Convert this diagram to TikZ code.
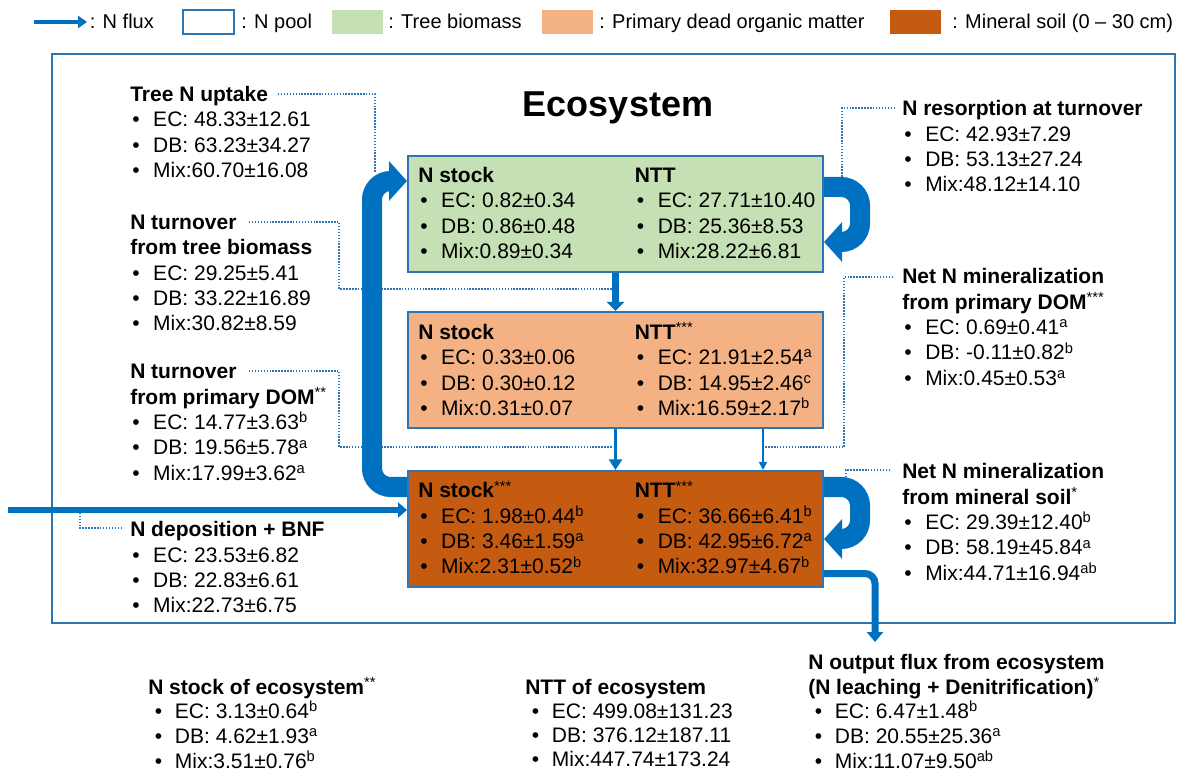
\documentclass[tikz,border=0pt]{standalone}
\usepackage{fontspec}
\setmainfont{Liberation Sans}
\usetikzlibrary{arrows.meta,calc}
\definecolor{fluxblue}{HTML}{0070C0}
\definecolor{lineblue}{HTML}{2E75B6}
\definecolor{treegreen}{HTML}{C5E0B4}
\definecolor{domorange}{HTML}{F4B183}
\definecolor{soilbrown}{HTML}{C55A11}
\newcommand{\bl}[1]{\hspace*{1.5pt}\makebox[15.75pt][l]{•}#1}
\newcommand{\blb}[1]{\hspace*{5pt}\makebox[15pt][l]{•}#1}
\newcommand{\sps}[1]{\textsuperscript{#1}}
\newcommand{\lines}[1]{\begin{tabular}[t]{@{}l@{}}#1\end{tabular}}
\begin{document}
\begin{tikzpicture}[x=0.75pt,y=-0.75pt,
  lbl/.style={anchor=base west, inner sep=0pt, font=\fontsize{15.75}{19}\selectfont},
  lblb/.style={anchor=base west, inner sep=0pt, font=\fontsize{15.75}{18.2}\selectfont},
  leg/.style={anchor=base west, inner sep=0pt, font=\fontsize{15}{18}\selectfont},
  pool/.style={draw=lineblue, line width=1.5pt, minimum width=311.25pt, minimum height=87pt, inner sep=0pt},
  legsq/.style={fill=#1, minimum width=38.25pt, minimum height=18pt, inner sep=0pt},
  leader/.style={draw=lineblue, line width=1.1pt, dash pattern=on 1.1pt off 1.1pt},
  bigflux/.style={draw=fluxblue, line width=15pt, rounded corners=14pt, -{Triangle[width=29pt,length=13.5pt]}},
  fluxa/.style={draw=fluxblue, line width=5.25pt, -{Triangle[width=12.75pt,length=6.75pt]}},
  fluxb/.style={draw=fluxblue, line width=2.25pt, -{Triangle[width=9.75pt,length=8pt]}},
  fluxc/.style={draw=fluxblue, line width=1.1pt, -{Triangle[width=6pt,length=6pt]}},
  fluxdep/.style={draw=fluxblue, line width=4.5pt, -{Triangle[width=11.25pt,length=6.75pt]}},
  fluxout/.style={draw=fluxblue, line width=5.25pt, rounded corners=7.5pt, -{Triangle[width=12pt,length=7.5pt]}},
  fluxleg/.style={draw=fluxblue, line width=3pt, -{Triangle[width=9pt,length=6.75pt]}}
]
\useasboundingbox (0,0) rectangle (1189,773);

% ---------- legend ----------
\coordinate (legA) at (34,22);
\coordinate (legB) at (87,22);
\draw[fluxleg] (legA) -- (legB);
\node[leg] (legt1) at (89.5,29) {: N flux};
\node[draw=lineblue, line width=1.5pt, fill=white, minimum width=38.25pt, minimum height=18pt, inner sep=0pt] (legpool) at (208,22) {};
\node[leg] (legt2) at (241,29) {: N pool};
\node[legsq=treegreen] (leggreen) at (357.5,22) {};
\node[leg] (legt3) at (388,29) {: Tree biomass};
\node[legsq=domorange] (legorange) at (567.5,22) {};
\node[leg] (legt4) at (599,29) {: Primary dead organic matter};
\node[legsq=soilbrown] (legbrown) at (915,22) {};
\node[leg] (legt5) at (952,29) {: Mineral soil (0 -- 30 cm)};

% ---------- ecosystem frame ----------
\node[draw=lineblue, line width=1.7pt, minimum width=842.25pt, minimum height=426.75pt, inner sep=0pt] (eco) at (613.5,338.5) {};
\node[font=\fontsize{27}{32}\selectfont\bfseries, inner sep=0pt] (ecot) at (618,108) {Ecosystem};

% ---------- leader coordinates ----------
\coordinate (lupE) at (278,94);   \coordinate (upTop) at (375,172);
\coordinate (lturnE) at (249,222); \coordinate (tb1) at (339,289); \coordinate (tb2) at (612,289);
\coordinate (ldomE) at (249,371);  \coordinate (td1) at (339,447); \coordinate (td2) at (613,447);
\coordinate (rmin1E) at (893,277); \coordinate (rm1) at (844,447); \coordinate (rm2) at (763,447);
\coordinate (rresE) at (895,108);  \coordinate (rr1) at (842,178);
\coordinate (rmin2E) at (890,470); \coordinate (rm3) at (846,479);
\coordinate (ldepE) at (122,528);  \coordinate (dp1) at (80,513);

\draw[leader] (lupE) -| (upTop);
\draw[leader] (lturnE) -| (tb1) -- (tb2);
\draw[leader] (ldomE) -| (td1) -- (td2);
\draw[leader] (rmin1E) -| (rm1) -- (rm2);
\draw[leader] (rresE) -| (rr1);
\draw[leader] (rmin2E) -| (rm3);
\draw[leader] (ldepE) -| (dp1);

% ---------- pools ----------
\node[pool, fill=treegreen] (g) at (615.5,214) {};
\node[pool, fill=domorange] (o) at (615.5,370) {};
\node[pool, fill=soilbrown] (s) at (615.5,529) {};

\node[lbl] (g1) at ($(g.north west)+(11,27.5)$) {\lines{\textbf{N stock}\\ \bl{EC: 0.82±0.34}\\ \bl{DB: 0.86±0.48}\\ \bl{Mix:0.89±0.34}}};
\node[lbl] (g2) at ($(g.north west)+(227.5,27.5)$) {\lines{\textbf{NTT}\\ \bl{EC: 27.71±10.40}\\ \bl{DB: 25.36±8.53}\\ \bl{Mix:28.22±6.81}}};

\node[lbl] (o1) at ($(o.north west)+(11,28.5)$) {\lines{\textbf{N stock}\\ \bl{EC: 0.33±0.06}\\ \bl{DB: 0.30±0.12}\\ \bl{Mix:0.31±0.07}}};
\node[lbl] (o2) at ($(o.north west)+(227.5,28.5)$) {\lines{\textbf{NTT}\sps{***}\\ \bl{EC: 21.91±2.54\sps{a}}\\ \bl{DB: 14.95±2.46\sps{c}}\\ \bl{Mix:16.59±2.17\sps{b}}}};

\node[lbl] (s1) at ($(s.north west)+(11,28)$) {\lines{\textbf{N stock}\sps{***}\\ \bl{EC: 1.98±0.44\sps{b}}\\ \bl{DB: 3.46±1.59\sps{a}}\\ \bl{Mix:2.31±0.52\sps{b}}}};
\node[lbl] (s2) at ($(s.north west)+(227.5,28)$) {\lines{\textbf{NTT}\sps{***}\\ \bl{EC: 36.66±6.41\sps{b}}\\ \bl{DB: 42.95±6.72\sps{a}}\\ \bl{Mix:32.97±4.67\sps{b}}}};

% ---------- flux labels ----------
\node[lbl] (lup) at (130,101.5) {\lines{\textbf{Tree N uptake}\\ \bl{EC: 48.33±12.61}\\ \bl{DB: 63.23±34.27}\\ \bl{Mix:60.70±16.08}}};
\node[lbl] (lturn) at (130,229.5) {\lines{\textbf{N turnover}\\ \textbf{from tree biomass}\\ \bl{EC: 29.25±5.41}\\ \bl{DB: 33.22±16.89}\\ \bl{Mix:30.82±8.59}}};
\node[lbl] (ldom) at (130,379) {\lines{\textbf{N turnover}\\ \textbf{from primary DOM}\sps{**}\\ \bl{EC: 14.77±3.63\sps{b}}\\ \bl{DB: 19.56±5.78\sps{a}}\\ \bl{Mix:17.99±3.62\sps{a}}}};
\node[lbl] (ldep) at (130,537) {\lines{\textbf{N deposition + BNF}\\ \bl{EC: 23.53±6.82}\\ \bl{DB: 22.83±6.61}\\ \bl{Mix:22.73±6.75}}};

\node[lbl] (rres) at (902,116) {\lines{\textbf{N resorption at turnover}\\ \bl{EC: 42.93±7.29}\\ \bl{DB: 53.13±27.24}\\ \bl{Mix:48.12±14.10}}};
\node[lbl] (rmin1) at (902,284) {\lines{\textbf{Net N mineralization}\\ \textbf{from primary DOM}\sps{***}\\ \bl{EC: 0.69±0.41\sps{a}}\\ \bl{DB: -0.11±0.82\sps{b}}\\ \bl{Mix:0.45±0.53\sps{a}}}};
\node[lbl] (rmin2) at (902,479) {\lines{\textbf{Net N mineralization}\\ \textbf{from mineral soil}\sps{*}\\ \bl{EC: 29.39±12.40\sps{b}}\\ \bl{DB: 58.19±45.84\sps{a}}\\ \bl{Mix:44.71±16.94\sps{ab}}}};

% ---------- bottom summaries ----------
\node[lblb] (bstock) at (148,694) {\lines{\textbf{N stock of ecosystem}\sps{**}\\ \blb{EC: 3.13±0.64\sps{b}}\\ \blb{DB: 4.62±1.93\sps{a}}\\ \blb{Mix:3.51±0.76\sps{b}}}};
\node[lblb] (bntt) at (525,694) {\lines{\textbf{NTT of ecosystem}\\ \blb{EC: 499.08±131.23}\\ \blb{DB: 376.12±187.11}\\ \blb{Mix:447.74±173.24}}};
\node[lblb] (bout) at (808,669.7) {\lines{\textbf{N output flux from ecosystem}\\ \textbf{(N leaching + Denitrification)}\sps{*}\\ \blb{EC: 6.47±1.48\sps{b}}\\ \blb{DB: 20.55±25.36\sps{a}}\\ \blb{Mix:11.07±9.50\sps{ab}}}};

% ---------- fluxes ----------
\draw[fluxa] (g.south) -- (o.north);
\draw[fluxb] (o.south) -- (s.north);
\draw[fluxc] ($(o.south east)+(-61,0)$) -- ($(s.north east)+(-61,0)$);
\draw[bigflux] ($(s.north west)+(0,17)$) -- ++(-35,0) |- ($(g.north west)+(0,26)$);
\draw[bigflux] ($(g.north east)+(0,32)$) -- ++(36,0) |- ($(g.north east)+(0,87)$);
\draw[bigflux] ($(s.north east)+(0,17)$) -- ++(36,0) |- ($(s.north east)+(0,69)$);
\coordinate (depsrc) at (8,510);
\draw[fluxdep] (depsrc) -- (depsrc -| s.west);
\coordinate (outend) at (875,642);
\draw[fluxout] ($(s.north east)+(0,103.5)$) -| (outend);
\end{tikzpicture}
\end{document}
